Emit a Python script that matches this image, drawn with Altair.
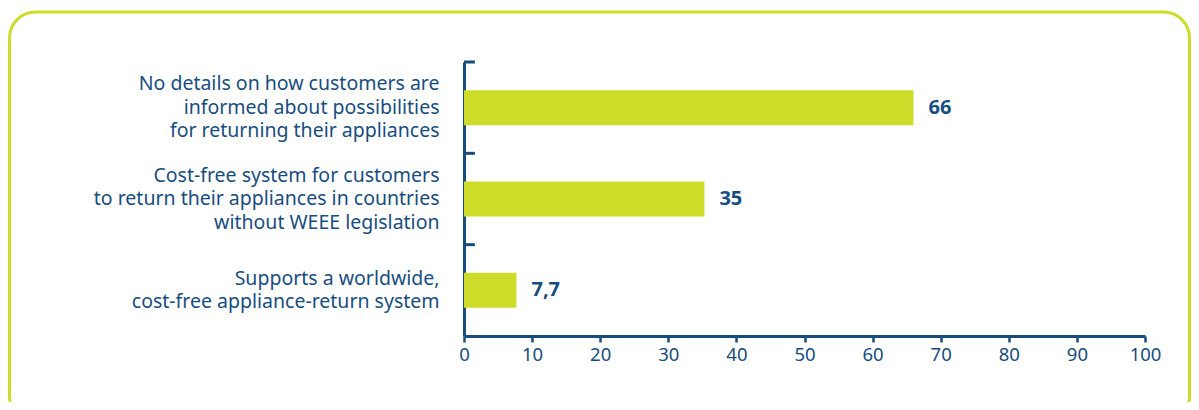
import altair as alt
import pandas as pd

categories = [
    "No details on how customers are\ninformed about possibilities\nfor returning their appliances",
    "Cost-free system for customers\nto return their appliances in countries\nwithout WEEE legislation",
    "Supports a worldwide,\ncost-free appliance-return system",
]
values = [66, 35.3, 7.7]
value_labels = ["66", "35", "7,7"]
x_ticks = [0, 10, 20, 30, 40, 50, 60, 70, 80, 90, 100]

BLUE = "#174d7e"
LIME = "#cddc29"
FONT = "Noto Sans"
LH = 23.5

df = pd.DataFrame({"cat": categories, "val": values, "lab": value_labels})

y_enc = alt.Y(
    "cat:N",
    sort=categories,
    scale=alt.Scale(paddingInner=0, paddingOuter=0),
    axis=alt.Axis(
        title=None,
        ticks=False,
        labelExpr="split(datum.label, '\\n')",
        labelFontSize=19.5,
        labelLineHeight=LH,
        labelColor=BLUE,
        labelFont=FONT,
        labelPadding=25,
        labelLimit=420,
        labelOffset={
            "condition": {
                "test": "length(split(datum.value, '\\n')) == 3",
                "value": -LH,
            },
            "value": -LH / 2,
        },
        domainColor=BLUE,
        domainWidth=3,
    ),
)
x_enc = alt.X(
    "val:Q",
    scale=alt.Scale(domain=[0, 100], nice=False),
    axis=alt.Axis(
        title=None,
        values=x_ticks,
        grid=False,
        tickSize=6,
        tickWidth=2.5,
        tickColor=BLUE,
        domainColor=BLUE,
        domainWidth=3,
        labelFontSize=18.5,
        labelColor=BLUE,
        labelFont=FONT,
        labelPadding=3,
        labelFlush=False,
    ),
)

base = alt.Chart(df)

bars = base.mark_bar(color=LIME, size=35).encode(x=x_enc, y=y_enc)

text = base.mark_text(
    align="left", baseline="middle", dx=15, fontSize=20, fontWeight="bold",
    color=BLUE, font=FONT,
).encode(x="val:Q", y=alt.Y("cat:N", sort=categories), text="lab:N")

ticks = base.mark_rule(color=BLUE, strokeWidth=3).encode(
    y=alt.Y("cat:N", sort=categories, bandPosition=0),
    x=alt.datum(0),
    x2=alt.datum(1.6),
)

border = alt.Chart(pd.DataFrame({"a": [0]})).mark_rect(
    fill=None, stroke=LIME, strokeWidth=3, cornerRadius=26, clip=False
).encode(
    x=alt.value(-454.5),
    x2=alt.value(725.5),
    y=alt.value(-50),
    y2=alt.value(360),
)

chart = (
    alt.layer(border, bars, text, ticks)
    .properties(
        width=681,
        height=274,
        autosize=alt.AutoSizeParams(type="none"),
        padding={"left": 456, "top": 54, "right": 46, "bottom": 66},
    )
    .configure_view(stroke=None)
)

chart.save("out.html", embed_options={"renderer": "svg", "actions": False})
